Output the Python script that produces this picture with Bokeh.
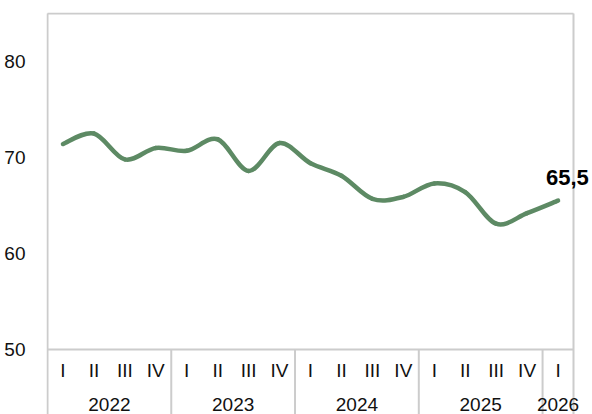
from bokeh.plotting import figure
from bokeh.models import Range1d, FixedTicker, Label, ColumnDataSource
from bokeh.core.properties import value
from bokeh.embed import file_html
from bokeh.resources import INLINE

# ---- data ----
years = ["2022", "2023", "2024", "2025", "2026"]
quarters_per_year = [4, 4, 4, 4, 1]
quarter_labels = ["I", "II", "III", "IV"] * 4 + ["I"]
values = [71.4, 72.5, 69.8, 71.0, 70.7, 71.9, 68.6, 71.5,
          69.4, 68.1, 65.7, 65.9, 67.3, 66.4, 63.1, 64.2, 65.5]
y_ticks = [50, 60, 70, 80]

FONT = "Liberation Sans"
LINE_COLOR = "#5d8a64"
GRID_COLOR = "#cccccc"
FS = "19px"

n = len(values)
y_base = 50
y_top = 85
px_y = 9.6            # pixels per y unit
px_x = 526 / n        # pixels per category
frame_left, frame_top, fig_w, fig_h = 46, 12, 592, 414
box_right_px = 573
x_start = -1 / px_x
x_end = n + (fig_w - box_right_px) / px_x
y_hi = y_top + 1 / px_y
y_bottom = y_hi - (fig_h - frame_top) / px_y

p = figure(width=fig_w, height=fig_h, output_backend="svg", toolbar_location=None,
           x_range=Range1d(x_start, x_end), y_range=Range1d(y_bottom, y_hi),
           x_axis_type=None, min_border_left=frame_left, min_border_right=0,
           min_border_top=frame_top, min_border_bottom=0)
p.outline_line_color = None
p.xgrid.visible = False
p.ygrid.visible = False
p.background_fill_color = "white"
p.border_fill_color = "white"

ax = p.yaxis[0]
ax.ticker = FixedTicker(ticks=y_ticks)
ax.axis_line_color = None
ax.major_tick_line_color = None
ax.minor_tick_line_color = None
ax.major_label_standoff = 15
ax.major_label_text_font = FONT
ax.major_label_text_font_size = FS
ax.major_label_text_color = "#111111"

# plot box and category axis lines
p.segment(x0=[0, n, 0, 0], y0=[y_bottom, y_bottom, y_top, y_base],
          x1=[0, n, n, n], y1=[y_top, y_top, y_top, y_base],
          line_color=GRID_COLOR, line_width=2)
bounds = []
acc = 0
for q in quarters_per_year[:-1]:
    acc += q
    bounds.append(acc)
p.segment(x0=bounds, y0=[y_base] * len(bounds), x1=bounds, y1=[y_bottom] * len(bounds),
          line_color=GRID_COLOR, line_width=2)

# quarter labels
xc = [i + 0.5 for i in range(n)]
p.text(x=xc, y=[y_base] * n, text=quarter_labels, y_offset=21,
       text_align="center", text_baseline="middle",
       text_font=value(FONT), text_font_size=FS, text_color="#111111")

# year labels
ycent = []
acc = 0
for q in quarters_per_year:
    ycent.append(acc + q / 2)
    acc += q
p.text(x=ycent, y=[y_base] * len(years), text=years, y_offset=55,
       text_align="center", text_baseline="middle",
       text_font=value(FONT), text_font_size=FS, text_color="#111111")

# smoothed line (Catmull-Rom -> cubic Bezier)
pts = list(zip(xc, values))
x0s, y0s, x1s, y1s, cx0s, cy0s, cx1s, cy1s = [], [], [], [], [], [], [], []
for i in range(n - 1):
    pm = pts[max(i - 1, 0)]
    p0 = pts[i]
    p1 = pts[i + 1]
    p2 = pts[min(i + 2, n - 1)]
    x0s.append(p0[0]); y0s.append(p0[1])
    x1s.append(p1[0]); y1s.append(p1[1])
    cx0s.append(p0[0] + (p1[0] - pm[0]) / 6); cy0s.append(p0[1] + (p1[1] - pm[1]) / 6)
    cx1s.append(p1[0] - (p2[0] - p0[0]) / 6); cy1s.append(p1[1] - (p2[1] - p0[1]) / 6)
src = ColumnDataSource(dict(x0=x0s, y0=y0s, x1=x1s, y1=y1s, cx0=cx0s, cy0=cy0s, cx1=cx1s, cy1=cy1s))
p.bezier(x0="x0", y0="y0", x1="x1", y1="y1", cx0="cx0", cy0="cy0", cx1="cx1", cy1="cy1",
         source=src, line_color=LINE_COLOR, line_width=4.5, line_cap="round")

# last value label
last = values[-1]
lab = Label(x=xc[-1], y=last, text=f"{last:.1f}".replace(".", ","),
            x_offset=-12, y_offset=23, text_font=FONT, text_font_size="22px",
            text_font_style="bold", text_color="#000000",
            text_align="left", text_baseline="middle")
p.add_layout(lab)

open("out.html", "w").write(file_html(p, INLINE))
